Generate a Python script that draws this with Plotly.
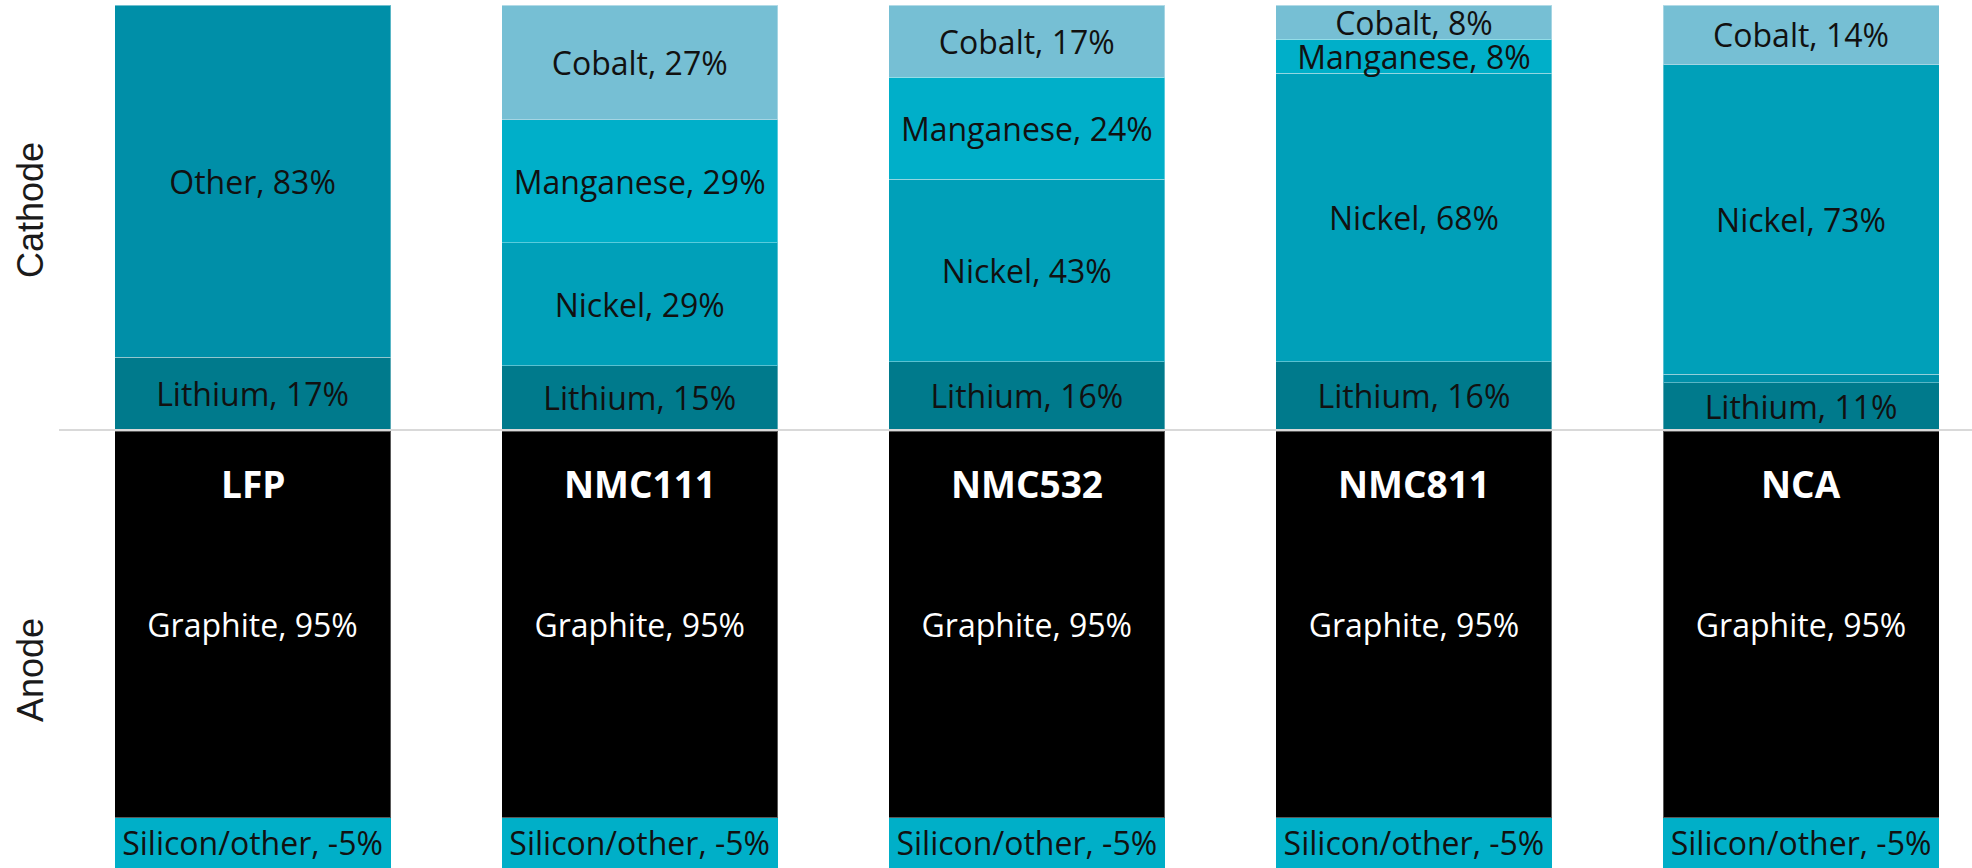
import plotly.graph_objects as go

# ---------------- data ----------------
categories = ["LFP", "NMC111", "NMC532", "NMC811", "NCA"]

lithium = [17, 15, 16, 16, 11]
other = [83, 0, 0, 0, 2]
nickel = [0, 29, 43, 68, 73]
manganese = [0, 29, 24, 8, 0]
cobalt = [0, 27, 17, 8, 14]

graphite = [95, 95, 95, 95, 95]
silicon = [-5, -5, -5, -5, -5]

# ---------------- style ----------------
W, H = 1972, 868
COL_LITHIUM = "#007A8C"
COL_OTHER = "#008FA8"
COL_NICKEL = "#00A0B9"
COL_MANGANESE = "#00AFC9"
COL_COBALT = "#76BFD4"
COL_GRAPHITE = "#000000"
COL_SILICON = "#00AFC8"
EDGE = "rgba(255,255,255,0.35)"
LABEL_FONT = dict(family="Open Sans", size=32, color="#111111")
MIN_LABEL = 5            # smaller segments are left unlabeled
MIN_VISIBLE_SEG = 12.3   # minimum drawn height of the anode strip so its label fits
COLUMN_LABEL_OFFSET = 12.8

fig = go.Figure()


def seg_text(name, vals):
    return [f"{name}, {v}%" if abs(v) >= MIN_LABEL else "" for v in vals]


def nz(vals):
    return [v if v != 0 else None for v in vals]


cathode = [
    ("Lithium", lithium, COL_LITHIUM),
    ("Other", other, COL_OTHER),
    ("Nickel", nickel, COL_NICKEL),
    ("Manganese", manganese, COL_MANGANESE),
    ("Cobalt", cobalt, COL_COBALT),
]
for name, vals, col in cathode:
    fig.add_trace(go.Bar(
        x=categories, y=nz(vals), name=name,
        marker=dict(color=col, line=dict(color=EDGE, width=1)),
        text=seg_text(name, vals), textposition="inside",
        insidetextanchor="middle", textangle=0, constraintext="none",
        textfont=LABEL_FONT, xaxis="x", yaxis="y", hoverinfo="skip",
    ))

silicon_display = [max(abs(v), MIN_VISIBLE_SEG) for v in silicon]
anode_max = max(g + s for g, s in zip(graphite, silicon_display))

fig.add_trace(go.Bar(
    x=categories, y=graphite, name="Graphite",
    marker=dict(color=COL_GRAPHITE, line=dict(color=EDGE, width=1)),
    text=[f"Graphite, {v}%" for v in graphite], textposition="inside",
    insidetextanchor="middle", textangle=0, constraintext="none",
    textfont=dict(family="Open Sans", size=32, color="#ffffff"),
    xaxis="x2", yaxis="y2", hoverinfo="skip",
))
fig.add_trace(go.Bar(
    x=categories, y=silicon_display, name="Silicon/other",
    marker=dict(color=COL_SILICON, line=dict(color=EDGE, width=0)),
    text=[f"Silicon/other, {v}%" for v in silicon], textposition="inside",
    insidetextanchor="middle", textangle=0, constraintext="none",
    textfont=LABEL_FONT, xaxis="x2", yaxis="y2", hoverinfo="skip",
))

# column (chemistry) labels inside the black anode bars
for c in categories:
    fig.add_annotation(
        x=c, y=COLUMN_LABEL_OFFSET, xref="x2", yref="y2", text=f"<b>{c}</b>",
        showarrow=False, font=dict(family="Open Sans", size=37, color="#ffffff"),
        xanchor="center", yanchor="middle",
    )

# row labels
ML = 59
for txt, ypx in (("Cathode", 210), ("Anode", 670)):
    fig.add_annotation(
        x=(30 - ML) / (W - ML), y=(H - ypx) / H, xref="paper", yref="paper",
        text=txt, textangle=-90, showarrow=False,
        font=dict(family="Liberation Sans", size=36, color="#1a1a1a"),
        xanchor="center", yanchor="middle",
    )

# separator between cathode and anode
fig.add_shape(type="line", xref="paper", yref="paper", x0=0, x1=1,
              y0=(H - 430) / H, y1=(H - 430) / H,
              line=dict(color="#d9d9d9", width=2))

spacing = 387.125
xr = [-0.5, -0.5 + (W - ML) / spacing]
fig.update_layout(
    width=W, height=H,
    margin=dict(l=ML, r=0, t=0, b=0),
    paper_bgcolor="white", plot_bgcolor="white",
    barmode="stack", bargap=0.287, showlegend=False,
    xaxis=dict(domain=[0, 1], range=xr, visible=False, anchor="y"),
    xaxis2=dict(domain=[0, 1], range=xr, visible=False, anchor="y2", matches="x"),
    yaxis=dict(domain=[(H - 429.5) / H, (H - 5.3) / H], range=[0, 100], visible=False),
    yaxis2=dict(domain=[0, (H - 431) / H], range=[anode_max, 0], visible=False),
)

fig.write_html(
    "out.html",
    config={"displayModeBar": False},
    post_script="document.body.style.margin='0px';document.body.style.overflow='hidden';",
)
